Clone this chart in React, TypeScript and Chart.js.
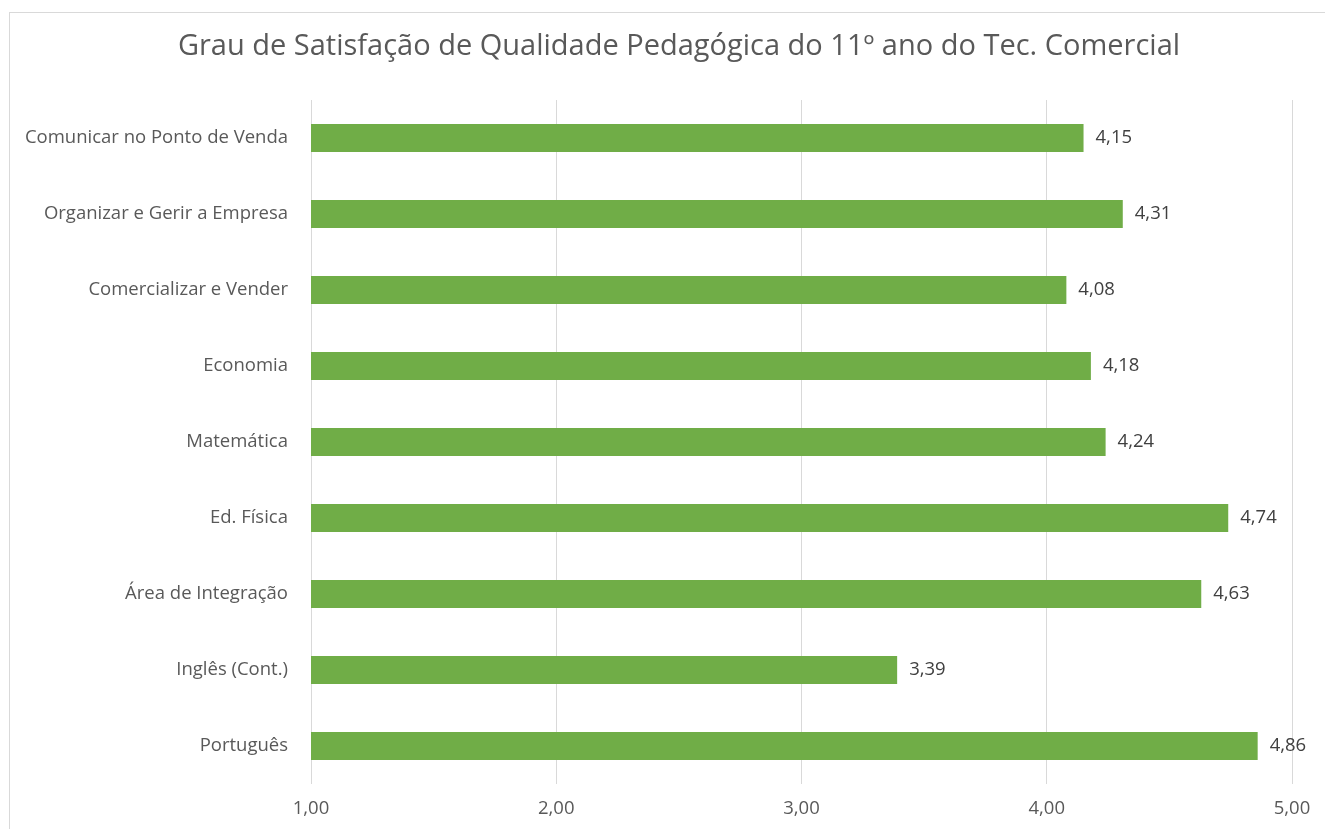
import React, { useEffect, useRef } from "react";
import { Chart, registerables } from "chart.js";

Chart.register(...registerables);

const TITLE = "Grau de Satisfação de Qualidade Pedagógica do 11º ano do Tec. Comercial";
const categories = [
  "Comunicar no Ponto de Venda",
  "Organizar e Gerir a Empresa",
  "Comercializar e Vender",
  "Economia",
  "Matemática",
  "Ed. Física",
  "Área de Integração",
  "Inglês (Cont.)",
  "Português",
];
const values = [4.15, 4.31, 4.08, 4.18, 4.24, 4.74, 4.63, 3.39, 4.86];
const xTicks = [1, 2, 3, 4, 5];

const FONT = "'Open Sans', 'Noto Sans', sans-serif";
const fmt = (v: number) => v.toFixed(2).replace(".", ",");

export default function App() {
  const ref = useRef<HTMLCanvasElement | null>(null);

  useEffect(() => {
    if (!ref.current) return;
    const titlePlugin = {
      id: "customTitle",
      afterDraw(chart: any) {
        const ctx = chart.ctx;
        ctx.save();
        ctx.font = `29px ${FONT}`;
        ctx.fillStyle = "#595959";
        ctx.textAlign = "center";
        ctx.textBaseline = "middle";
        ctx.fillText(TITLE, 679, 47);
        ctx.restore();
      },
    };
    const labelPlugin = {
      id: "valueLabels",
      afterDatasetsDraw(chart: any) {
        const ctx = chart.ctx;
        const meta = chart.getDatasetMeta(0);
        ctx.save();
        ctx.font = `18.5px ${FONT}`;
        ctx.fillStyle = "#404040";
        ctx.textAlign = "left";
        ctx.textBaseline = "middle";
        meta.data.forEach((bar: any, i: number) => {
          ctx.fillText(fmt(values[i]), bar.x + 12, bar.y);
        });
        ctx.restore();
      },
    };
    const chart = new Chart(ref.current, {
      type: "bar",
      data: {
        labels: categories,
        datasets: [
          {
            data: values,
            backgroundColor: "#70AD47",
            borderWidth: 0,
            categoryPercentage: 1,
            barPercentage: 0.37,
          },
        ],
      },
      options: {
        indexAxis: "y",
        animation: false,
        responsive: false,
        maintainAspectRatio: false,
        layout: { padding: { top: 100, left: 0, right: 33, bottom: 0 } },
        plugins: {
          legend: { display: false },
          title: { display: false },
          tooltip: { enabled: false },
        },
        scales: {
          x: {
            min: 1,
            max: 5,
            afterBuildTicks(scale: any) {
              scale.ticks = xTicks.map((v) => ({ value: v }));
            },
            afterFit(scale: any) {
              scale.height = 45;
            },
            grid: { color: "#D9D9D9", drawTicks: false, lineWidth: 1 },
            border: { display: false },
            ticks: {
              padding: 14,
              color: "#595959",
              font: { family: FONT, size: 18.5 },
              callback: (v: any) => fmt(Number(v)),
            },
          },
          y: {
            afterFit(scale: any) {
              scale.width = 311;
            },
            grid: { display: false, drawTicks: false },
            border: { display: false },
            ticks: {
              padding: 23,
              color: "#595959",
              font: { family: FONT, size: 18.5 },
            },
          },
        },
      },
      plugins: [titlePlugin, labelPlugin],
    });
    return () => chart.destroy();
  }, []);

  return (
    <div style={{ position: "fixed", left: 0, top: 0, width: 1325, height: 829, background: "#fff", overflow: "hidden" }}>
      <div
        style={{
          position: "absolute",
          left: 9,
          top: 12,
          width: 1400,
          height: 900,
          border: "1px solid #D9D9D9",
          boxSizing: "border-box",
        }}
      />
      <canvas ref={ref} width={1325} height={829} style={{ position: "absolute", left: 0, top: 0, display: "block" }} />
    </div>
  );
}
